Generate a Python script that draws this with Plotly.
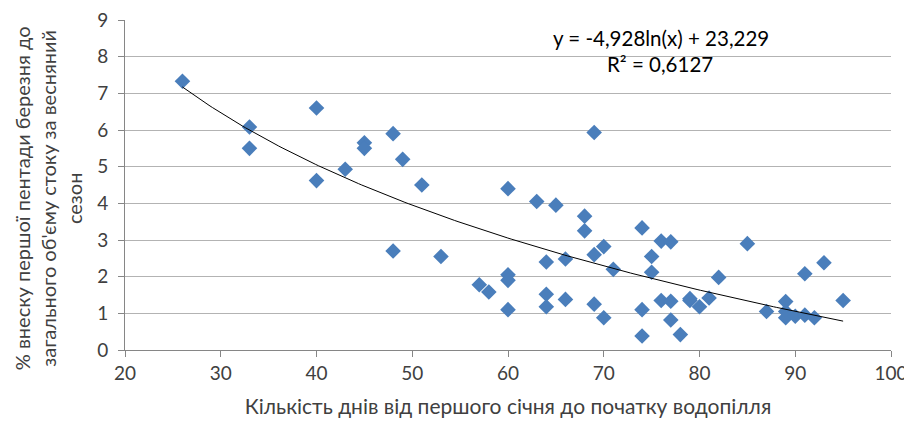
import numpy as np
import plotly.graph_objects as go

days = [26, 33, 33, 40, 40, 43, 45, 45, 48, 49, 48, 51, 53, 57, 58,
        60, 60, 60, 60, 63, 65, 64, 64, 64, 66, 66, 69, 68, 68, 69, 69,
        70, 70, 71, 74, 74, 74, 75, 75, 76, 76, 77, 77, 77, 78, 79, 79,
        80, 81, 82, 85, 87, 89, 89, 89, 90, 91, 91, 92, 93, 95]
share = [7.33, 6.08, 5.5, 6.6, 4.62, 4.93, 5.65, 5.5, 5.9, 5.2, 2.7, 4.5, 2.55, 1.78, 1.58,
         4.4, 2.05, 1.9, 1.1, 4.05, 3.95, 2.4, 1.52, 1.18, 2.48, 1.38, 5.93, 3.65, 3.25, 2.6, 1.25,
         2.82, 0.88, 2.2, 3.33, 1.1, 0.38, 2.55, 2.12, 2.97, 1.35, 2.95, 1.33, 0.82, 0.42, 1.35, 1.4,
         1.18, 1.42, 1.98, 2.9, 1.05, 1.32, 1.05, 0.88, 0.92, 2.08, 0.95, 0.88, 2.38, 1.35]

trend_a = -4.928
trend_b = 23.229
eq_text = "y = -4,928ln(x) + 23,229"
r2_text = "R² = 0,6127"

x_title = "Кількість днів від першого січня до початку водопілля"
y_title = "% внеску першої пентади березня до<br>загального об'єму стоку за весняний<br>сезон"

tx = np.linspace(min(days), max(days), 200)
ty = trend_a * np.log(tx) + trend_b

font_family = "Lato, Open Sans, sans-serif"
txt_col = "#404040"

fig = go.Figure()
fig.add_trace(go.Scatter(x=days, y=share, mode="markers",
                         marker=dict(symbol="diamond", size=12, color="#4A7EBB",
                                     line=dict(width=0)),
                         showlegend=False, hoverinfo="x+y"))
fig.add_trace(go.Scatter(x=tx, y=ty, mode="lines",
                         line=dict(color="#000000", width=1),
                         showlegend=False, hoverinfo="skip"))

fig.add_annotation(x=0.700, y=0.945, xref="paper", yref="paper", text=eq_text,
                   showarrow=False, xanchor="center", yanchor="middle",
                   font=dict(size=20.5, color="#000000", family=font_family))
fig.add_annotation(x=0.698, y=0.867, xref="paper", yref="paper", text=r2_text,
                   showarrow=False, xanchor="center", yanchor="middle",
                   font=dict(size=20.5, color="#000000", family=font_family))
# y-axis title as a rotated annotation so it can sit slightly below centre
fig.add_annotation(x=-0.1005, y=0.46, xref="paper", yref="paper", text=y_title,
                   showarrow=False, xanchor="center", yanchor="middle", textangle=-90,
                   font=dict(size=20, color=txt_col, family=font_family))

# page body has an 8px default margin, so the figure is sized to fit the window
fig.update_layout(
    width=904, height=413,
    margin=dict(l=117, r=21, t=12, b=71),
    paper_bgcolor="white", plot_bgcolor="white",
    font=dict(family=font_family, size=18, color=txt_col),
    xaxis=dict(range=[20, 100], dtick=10, tick0=20, showgrid=False,
               showline=True, linecolor="#868686", linewidth=1,
               ticks="outside", ticklen=6, tickcolor="#868686",
               zeroline=False, automargin=False, ticklabeloverflow="allow",
               title=dict(text=x_title, font=dict(size=21, color=txt_col), standoff=16),
               tickfont=dict(size=19, color=txt_col)),
    yaxis=dict(range=[0, 9], dtick=1, showgrid=True, gridcolor="#B3B3B3", gridwidth=1,
               showline=True, linecolor="#868686", linewidth=1,
               ticks="outside", ticklen=6, tickcolor="#868686",
               zeroline=False, ticklabelstandoff=6, automargin=False,
               ticklabeloverflow="allow",
               tickfont=dict(size=19, color=txt_col)),
)

fig.write_html("out.html")
